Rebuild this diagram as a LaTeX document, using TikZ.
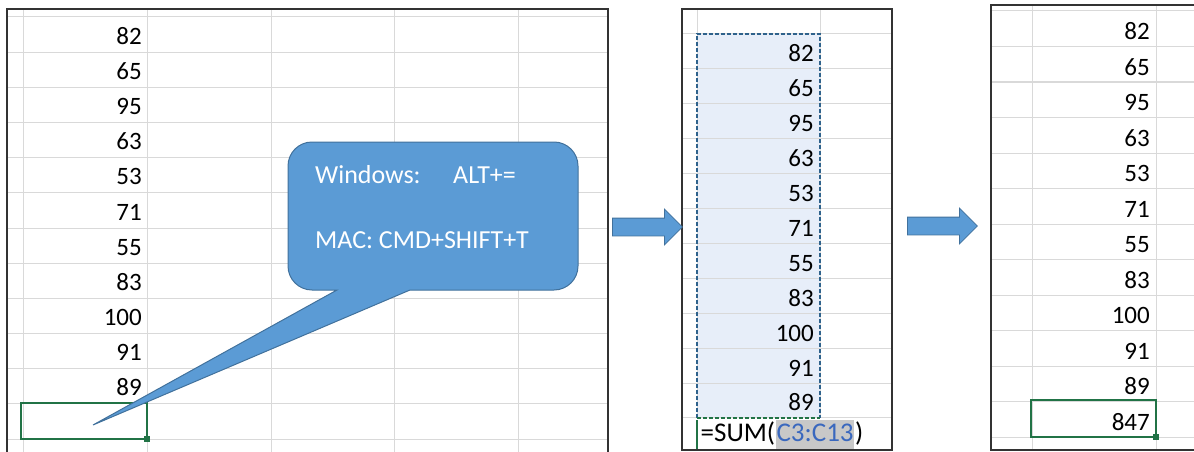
\documentclass[tikz,border=0pt]{standalone}
\usepackage{fontspec}
\setmainfont{Carlito}
\usepackage{xcolor}
\usepackage{tikz}
\usetikzlibrary{calc, shapes, shapes.arrows, positioning}

\definecolor{gridgray}{RGB}{217,217,217}
\definecolor{xlgreen}{RGB}{33,115,70}
\definecolor{callfill}{RGB}{91,155,213}
\definecolor{calledge}{RGB}{65,113,156}
\definecolor{selfill}{RGB}{231,238,249}
\definecolor{seledge}{RGB}{46,98,140}
\definecolor{refblue}{RGB}{58,104,190}
\definecolor{refgray}{RGB}{200,200,200}

\tikzset{
  gridline/.style={draw=gridgray, line width=1pt},
  panel/.style={draw=black!80, line width=1.4pt},
  num/.style={anchor=base east, inner sep=0pt, text=black, font=\fontsize{25}{30}\selectfont},
  formula/.style={anchor=base west, inner xsep=0.5pt, inner ysep=0pt, text=black, font=\fontsize{27}{32}\selectfont},
  cellsel/.style={draw=xlgreen, line width=2pt},
  ants/.style={draw=seledge, line width=1.8pt, dash pattern=on 4pt off 2pt},
  calltext/.style={anchor=base west, inner sep=0pt, text=white, font=\fontsize{26}{31}\selectfont},
  blockarrow/.style={single arrow, fill=callfill, draw=calledge, line width=0.8pt,
    minimum height=70pt, minimum width=35pt, single arrow head extend=9pt,
    inner xsep=0pt, inner ysep=8.5pt, anchor=tail}
}

\begin{document}
\begin{tikzpicture}[x=1pt, y=-1pt]
\useasboundingbox (0,0) rectangle (1194,452);

% left sheet
\foreach \x in {23,147,271,394,518}
  \draw[gridline] (\x,9) -- (\x,452);
\foreach \k in {0,...,12}
  \draw[gridline] (7,{17+35.17*\k}) -- (608,{17+35.17*\k});
\foreach \v [count=\i] in {82,65,95,63,53,71,55,83,100,91,89}
  \node[num] (l\i) at (142,{17+35.17*\i-8}) {\v};
\draw[cellsel] (21,403) rectangle (147,439);
\fill[xlgreen] (144,436) rectangle (150,442);
\draw[panel] (7,452) -- (7,9) -- (608,9) -- (608,452);

% callout
\draw[fill=callfill, draw=calledge, line width=1pt]
  (93,425) -- (410,290) [rounded corners=24pt] -- (578,290) -- (578,142)
  -- (288,142) -- (288,290) [sharp corners] -- (337,290) -- cycle;
\node[calltext] (win) at (315,183) {Windows:};
\node[calltext] (alt) at (453,183) {ALT+=};
\node[calltext] (mac) at (315,248) {MAC: CMD+SHIFT+T};

% middle sheet
\fill[selfill] (697,34) rectangle (820,418);
\foreach \k in {0,...,11}
  \draw[gridline] (682,{34+34.9*\k}) -- (892,{34+34.9*\k});
\draw[gridline] (697,9) -- (697,418);
\draw[gridline] (820,9) -- (820,418);
\foreach \v [count=\i] in {82,65,95,63,53,71,55,83,100,91,89}
  \node[num] (m\i) at (814,{34+34.9*\i-7}) {\v};
\draw[ants] (697,418) -- (697,34) -- (820,34) -- (820,418);
\draw[ants, draw=xlgreen] (697,418) -- (820,418);
\node[formula] (fsum) at (700,441) {=SUM(};
\node[formula, text=refblue, fill=refgray, text height=21pt, text depth=9pt]
  (fref) at (fsum.base east) {C3:C13};
\node[formula] (fend) at (fref.base east) {)};
\draw[draw=xlgreen, line width=2pt] (697,420) -- (697,450);
\draw[panel] (682,9) rectangle (892,450);

% right sheet
\foreach \x in {1032,1156}
  \draw[gridline] (\x,5) -- (\x,450);
\foreach \k in {0,...,12}
  \draw[gridline] (991,{11+35.5*\k}) -- (1194,{11+35.5*\k});
\foreach \v [count=\i] in {82,65,95,63,53,71,55,83,100,91,89,847}
  \node[num] (r\i) at (1150,{11+35.5*\i-7}) {\v};
\draw[cellsel] (1031,400) rectangle (1156,437);
\fill[xlgreen] (1153,434) rectangle (1159,440);
\draw[panel] (1194,5) -- (991,5) -- (991,450) -- (1194,450);

% arrows
\node[blockarrow] (arrA) at (612,227) {};
\node[blockarrow] (arrB) at (907,226) {};
\end{tikzpicture}
\end{document}
